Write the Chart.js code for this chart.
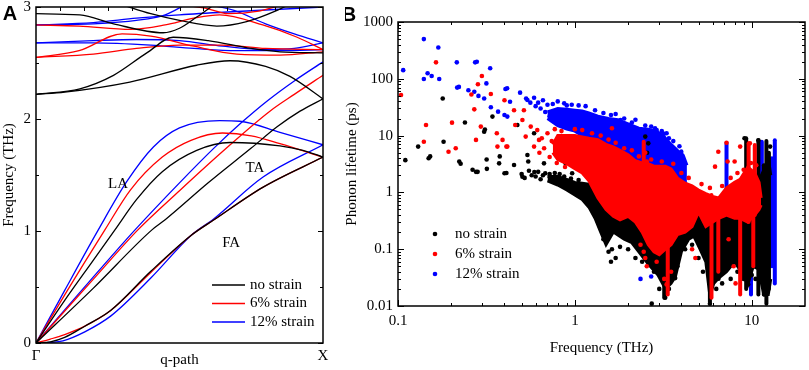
<!DOCTYPE html>
<html>
<head>
<meta charset="utf-8">
<script src="https://cdn.jsdelivr.net/npm/chart.js@4.4.1/dist/chart.umd.min.js"></script>
<style>
  html, body { margin: 0; padding: 0; background: #fff; }
  #wrap { position: relative; width: 809px; height: 370px; overflow: hidden; background: #fff; }
  #dispersion { position: absolute; left: 0; top: 0; }
  #lifetime { position: absolute; left: 345px; top: 0; }
</style>
</head>
<body>
<div id="wrap">
  <canvas id="dispersion" width="350" height="370"></canvas>
  <canvas id="lifetime" width="464" height="370"></canvas>
</div>
<script>
// ---------- panel A: dispersion branches, [q along Γ-X, frequency THz] ----------
const noStrainBranches = [
  [[0,0],[0.05,0.01],[0.1,0.05],[0.17,0.15],[0.26,0.29],[0.4,0.64],[0.54,0.96],[0.62,1.10],[0.79,1.39],[1,1.66]],
  [[0,0],[0.1,0.38],[0.2,0.74],[0.275,1.01],[0.35,1.28],[0.44,1.53],[0.56,1.72],[0.676,1.79],[0.85,1.76],[0.93,1.72],[1,1.66]],
  [[0,0],[0.2,0.49],[0.404,1.01],[0.45,1.10],[0.6,1.43],[0.75,1.74],[0.84,1.93],[0.92,2.07],[1,2.18]],
  [[0,2.22],[0.1,2.24],[0.327,2.33],[0.56,2.48],[0.676,2.52],[0.8,2.47],[0.885,2.38],[1,2.18]],
  [[0,2.22],[0.153,2.27],[0.27,2.39],[0.386,2.59],[0.478,2.73],[0.6,2.70],[0.75,2.63],[0.85,2.60],[1,2.59]],
  [[0,2.94],[0.153,2.93],[0.27,2.85],[0.443,2.77],[0.5,2.81],[0.56,2.91],[0.62,3.02]],
  [[0.3,3.02],[0.4,2.94],[0.5,2.88],[0.63,2.83],[0.734,2.87],[0.84,2.97],[0.88,3.02]]
];
const strain6Branches = [
  [[0,0],[0.05,0.035],[0.1,0.075],[0.17,0.15],[0.26,0.29],[0.4,0.63],[0.54,0.96],[0.62,1.10],[0.79,1.39],[1,1.66]],
  [[0,0],[0.1,0.43],[0.24,1.01],[0.33,1.37],[0.44,1.66],[0.54,1.81],[0.65,1.875],[0.75,1.85],[0.85,1.78],[1,1.66]],
  [[0,0],[0.2,0.57],[0.355,1.01],[0.5,1.36],[0.65,1.71],[0.815,2.07],[0.9,2.22],[1,2.39]],
  [[0,2.55],[0.15,2.61],[0.3,2.76],[0.4,2.74],[0.55,2.65],[0.7,2.58],[0.85,2.57],[1,2.60]],
  [[0,2.55],[0.2,2.58],[0.35,2.63],[0.5,2.66],[0.65,2.66],[0.8,2.63],[1,2.62]],
  [[0,2.84],[0.15,2.83],[0.33,2.80],[0.45,2.84],[0.55,2.90],[0.64,2.93],[0.79,2.84],[0.91,2.73],[1,2.62]],
  [[0.5,3.02],[0.59,2.99],[0.67,2.94],[0.77,2.96],[0.86,3.02]]
];
const strain12Branches = [
  [[0,0],[0.05,0.005],[0.094,0.02],[0.17,0.10],[0.26,0.24],[0.4,0.58],[0.54,0.96],[0.62,1.11],[0.79,1.48],[1,1.77]],
  [[0,0],[0.1,0.47],[0.217,1.01],[0.316,1.44],[0.409,1.75],[0.5,1.92],[0.64,1.985],[0.71,1.98],[0.85,1.88],[1,1.77]],
  [[0,0],[0.2,0.59],[0.345,1.01],[0.5,1.43],[0.62,1.74],[0.717,1.97],[0.81,2.17],[0.9,2.34],[1,2.51]],
  [[0,2.68],[0.2,2.70],[0.35,2.71],[0.5,2.70],[0.65,2.65],[0.8,2.62],[0.9,2.63],[1,2.68]],
  [[0,2.68],[0.2,2.68],[0.4,2.66],[0.55,2.63],[0.7,2.61],[0.85,2.61],[1,2.62]],
  [[0,2.84],[0.2,2.86],[0.35,2.90],[0.5,2.93],[0.7,2.96],[0.85,2.98],[1,3.0]],
  [[0,2.84],[0.2,2.85],[0.35,2.88],[0.45,2.93],[0.52,3.02]],
  [[0.6,3.02],[0.69,2.97],[0.8,2.85],[0.9,2.76],[1,2.68]]
];
const freqTicksA = [0, 1, 2, 3];
const qTicks = [0, 1];
const qTickLabels = ['Γ', 'X'];
const branchNotes = [['LA', 0.286, 1.42], ['TA', 0.763, 1.56], ['FA', 0.68, 0.89]];

// ---------- panel B: phonon lifetime (ps) vs frequency (THz) ----------
// dense parts of each cloud, as upper / lower edges
const blueBandFreq = [0.7,0.8,0.9,1.0,1.1,1.2,1.35,1.55,1.75,2.0,2.3,2.6,2.9,3.2,3.5,3.8,4.1,4.3];
const blueBandHigh = [26,30,29,28,27,25,22,20,19,16,13.5,13,12,9.5,7,5.5,4.5,3];
const blueBandLow  = [20,15,13,12,10,9,6,4,3.5,3,2.5,2.2,2,1.8,1.5,1.3,1.3,1.5];

const redBandFreq = [0.75,0.8,0.9,1.0,1.1,1.2,1.35,1.5,1.65,1.8,2.0,2.2,2.4,2.6,2.8,3.0,3.25,3.5,3.8,4.2,4.6,5.0,5.5,6.0,6.5,7.2,8.0,8.6,9.5,10.4,11.0,11.3];
const redBandHigh = [7,10,10,10,9.5,9,8.5,7,6.3,5.5,4.6,3.6,3.3,3.2,2.9,2.9,2.9,2.6,1.8,1.45,1.3,1.1,0.95,0.85,0.8,1.2,1.5,1.7,2.8,2.2,1.5,0.8];
const redBandLow  = [5,3.8,3.2,2.6,2.2,1.6,0.8,0.5,0.38,0.33,0.38,0.3,0.2,0.12,0.09,0.08,0.1,0.12,0.18,0.2,0.25,0.45,0.25,0.3,0.35,0.4,0.35,0.35,0.3,0.4,0.5,0.6];

const blackBandFreq = [0.7,0.8,0.9,1.0,1.1,1.2,1.3,1.4,1.5,1.65,1.9,2.1,2.3,2.6,2.95,3.25,3.5,3.7,4.0,4.4,4.7,5.1,5.5,5.8,6.1,6.5,7.2,8.0,8.7,9.5,10.2,10.9,11.7,12.4,12.8];
const blackBandHigh = [1.9,1.9,1.7,1.5,1.45,1.4,1.3,1.3,1.2,1.1,1.0,0.95,0.9,0.75,0.65,0.6,0.7,0.8,1.0,1.1,1.0,0.9,0.7,0.5,0.55,0.6,0.6,0.65,0.7,1.1,1.1,1.5,2.5,4,2];
const blackBandLow  = [1.6,1.35,1.1,0.9,0.75,0.55,0.35,0.2,0.12,0.2,0.15,0.13,0.09,0.055,0.035,0.02,0.025,0.033,0.09,0.15,0.17,0.1,0.06,0.015,0.025,0.031,0.04,0.06,0.04,0.024,0.05,0.045,0.016,0.016,0.03];

// vertical streaks: [frequency, lowest lifetime, highest lifetime]
const blueStreaks = [[4.0,1.0,5.3],[3.17,1.5,11],[7.2,0.11,7.4],[11.4,0.11,7.8],[13.5,0.025,8.3],[13.0,0.05,4],[9.9,0.016,0.09]];
const redStreaks = [[5.92,0.014,0.9],[8.6,0.016,1.6],[9.6,0.3,7.3],[10.4,0.4,6.8],[3.35,0.016,0.15],[2.45,2.3,7.8],[6.47,0.04,0.5],[10.2,0.05,0.4]];
const blackStreaks = [[12.1,0.011,8],[12.5,0.02,5],[10.9,0.016,8.3],[9.3,0.02,9],[5.8,0.012,0.6],[3.2,0.014,0.3],[6.5,0.03,0.5],[11.7,0.016,3]];

// single points: [frequency, lifetime]
const blueScatter = [
  [0.107,142],[0.14,500],[0.169,355],[0.14,99],[0.147,125],[0.155,112],[0.171,99],[0.215,195],[0.273,195],[0.279,200],
  [0.332,153],[0.216,70],[0.221,72],[0.25,63],[0.27,59],[0.285,50],[0.307,45],[0.316,83],[0.335,31.5],[0.368,26.4],
  [0.405,66],[0.414,68],[0.40,23],[0.415,21.6],[0.43,39.5],[0.49,57],[0.53,45],[0.539,42.4],[0.56,38],[0.588,46.5],[0.6,33],
  [0.62,38],[0.64,30],[0.66,42],[0.68,26],[0.70,35],[0.72,22],[0.75,36],[0.77,18],[0.80,40],[0.82,25],[0.85,16],
  [0.87,37],[0.90,34],[0.92,14],[0.96,35],[1.05,34],[1.15,33],[1.3,28],[1.45,25],[1.6,23],[1.7,24],[1.9,20],
  [2.1,17],[2.2,19],[2.5,15],[2.7,14.5],[3.1,12],[3.4,9],[3.6,8],[3.9,6.5],
  [2.39,11.7],[2.9,12.5],[3.3,11],[2.84,13.5],[1.81,18.8],
  [2.3,0.12],[2.35,0.03],[2.6,0.06],[2.7,0.033],[2.85,0.1],[3.0,0.07],[2.4,0.2],[5.5,0.3],[6.0,0.2],[9.5,0.05]
];
const redScatter = [
  [0.104,52],[0.144,15.4],[0.14,7.8],[0.164,195],[0.193,5.2],[0.202,16.9],[0.212,6.0],[0.26,53],[0.27,29],[0.276,8.4],
  [0.283,80],[0.294,14.4],[0.298,112],[0.335,54],[0.362,11],[0.365,6.4],[0.39,8.4],[0.40,42],[0.41,6.4],[0.415,6.4],
  [0.453,28],[0.46,15.4],[0.505,18.8],[0.515,28],[0.527,9.6],[0.563,14.4],[0.588,6.4],[0.613,12.5],[0.627,8.4],
  [0.63,5],[0.65,9],[0.67,6],[0.70,11],[0.72,4.2],[0.74,8],[0.77,13],[0.79,3.3],[0.84,12],[0.88,2.8],
  [1.0,13],[1.1,12.5],[1.25,11],[1.4,10],[1.55,8.5],[1.7,7.5],[1.9,6],[2.1,5.5],[2.3,4.3],[2.7,3.8],[3.1,3.5],
  [3.6,3.2],[4.0,2.2],[4.4,1.8],[5.2,1.4],[5.8,1.2],[6.8,1.3],[7.6,1.8],[8.3,2.2],[9.0,2.5],[9.9,3.3],[10.6,3],
  [1.62,13.5],[2.5,5],[2.55,3.5],[6.47,5.2],[6.2,2.84],[7.2,7.5],[7.3,3.5],[8.0,3.5],[8.6,6.4],[9.76,7.3],
  [2.45,0.09],[2.5,0.07],[2.55,0.05],[2.9,0.06],[3.2,0.03],[3.3,0.024],[3.5,0.04],[2.35,0.12],[4.6,0.1],[4.8,0.07],
  [7.9,0.05],[8.1,0.025],[7.4,0.15]
];
const blackScatter = [
  [0.11,3.7],[0.13,6.4],[0.149,4.0],[0.152,4.3],[0.179,45],[0.181,7.8],[0.222,3.5],[0.226,3.2],[0.239,17],[0.264,2.5],
  [0.276,2.3],[0.282,2.3],[0.307,11.7],[0.31,12.8],[0.317,3.8],[0.318,2.6],[0.342,21.6],[0.373,3.25],[0.376,4.3],[0.40,2.17],
  [0.41,2.2],[0.453,3.04],[0.473,15.4],[0.505,1.89],[0.539,4.55],[0.545,3.5],[0.588,11],[0.59,2.29],[0.669,3.25],[0.68,2.17],
  [0.50,2.1],[0.52,1.8],[0.55,2.4],[0.57,2.0],[0.60,1.9],[0.62,2.3],[0.64,1.7],[0.66,2.0],[0.72,2.1],[0.74,1.6],
  [0.77,2.2],[0.82,2.1],[0.87,1.9],[0.95,1.75],[1.05,1.65],
  [0.886,3.25],[0.965,2.17],[2.5,9.6],[2.6,7.3],[2.56,5],[1.55,0.09],[1.6,0.06],[1.7,0.07],[1.62,0.1],[2.72,0.011],
  [1.45,0.15],[1.8,0.11],[2.0,0.1],[2.2,0.07],[2.4,0.06],[2.8,0.04],[3.0,0.02],[3.4,0.02],[3.8,0.05],[4.2,0.1],
  [4.6,0.12],[5.0,0.07],[5.3,0.04],[6.3,0.02],[6.8,0.025],[7.6,0.03],[8.3,0.04],[9.0,0.03],[10.0,0.035],[10.5,0.03],
  [3.24,0.014],[3.69,0.031],[5.8,0.011],[9.55,0.024],[11.8,0.016],[9.1,9],[12.7,6.4],[10.9,8.3]
];
const lifetimeTicks = [0.01, 0.1, 1, 10, 100, 1000];
const freqTicksB = [0.1, 1, 10];

const seriesNames = ['no strain', '6% strain', '12% strain'];
const seriesColors = ['#000000', '#ff0000', '#0000ff'];

const serif = {family: 'Liberation Serif', size: 15};
const serifTitle = {family: 'Liberation Serif', size: 15, lineHeight: 1};

// frame, inward ticks, notes and legends
const framePlugin = {
  id: 'frame',
  afterDatasetsDraw(chart, args, o) {
    const {ctx, chartArea: a} = chart;
    const xs = chart.scales.x, ys = chart.scales.y;
    ctx.save();
    ctx.strokeStyle = '#000';
    ctx.lineWidth = 1;
    ctx.beginPath();
    for (const [v, len] of o.yTicks) {
      const y = Math.round(ys.getPixelForValue(v)) + 0.5;
      ctx.moveTo(a.left, y); ctx.lineTo(a.left + len, y);
      ctx.moveTo(a.right, y); ctx.lineTo(a.right - len, y);
    }
    for (const [v, len] of o.xTicks) {
      const x = Math.round(xs.getPixelForValue(v)) + 0.5;
      ctx.moveTo(x, a.top); ctx.lineTo(x, a.top + len);
      if (o.bottomTicks) { ctx.moveTo(x, a.bottom); ctx.lineTo(x, a.bottom - len); }
    }
    ctx.stroke();
    ctx.lineWidth = 1.5;
    ctx.strokeRect(a.left, a.top, a.right - a.left, a.bottom - a.top);

    ctx.fillStyle = '#000';
    ctx.textBaseline = 'middle';
    ctx.font = '15px "Liberation Serif"';
    ctx.textAlign = 'center';
    for (const [txt, q, f] of (o.notes || [])) {
      ctx.fillText(txt, xs.getPixelForValue(q), ys.getPixelForValue(f));
    }
    // legend
    ctx.textAlign = 'left';
    seriesNames.forEach((name, i) => {
      const y = a.bottom + o.legend.y0 + i * o.legend.dy;
      if (o.legend.kind === 'line') {
        ctx.strokeStyle = seriesColors[i];
        ctx.lineWidth = 1.3;
        ctx.beginPath();
        ctx.moveTo(a.right + o.legend.x0, y); ctx.lineTo(a.right + o.legend.x0 + 33, y);
        ctx.stroke();
        ctx.fillStyle = '#000';
        ctx.fillText(name, a.right + o.legend.x0 + 38, y);
      } else {
        ctx.fillStyle = seriesColors[i];
        ctx.beginPath();
        ctx.arc(a.left + o.legend.x0, y, 2.3, 0, Math.PI * 2);
        ctx.fill();
        ctx.fillStyle = '#000';
        ctx.fillText(name, a.left + o.legend.x0 + 20, y);
      }
    });
    ctx.font = 'bold 20px "Liberation Sans"';
    ctx.textAlign = 'center';
    ctx.fillText(o.panel[0], o.panel[1], o.panel[2]);
    ctx.restore();
  }
};

// ---------- panel A ----------
function branchSets(branches, color) {
  return branches.map(b => ({
    data: b.map(p => ({x: p[0], y: p[1]})),
    showLine: true,
    borderColor: color,
    borderWidth: 1.3,
    pointRadius: 0,
    fill: false,
    cubicInterpolationMode: 'monotone'
  }));
}

const ticksA = [];
for (let v = 0; v <= 3; v += 0.5) ticksA.push([v, freqTicksA.includes(v) ? 5 : 3]);
const topTicksA = [];
for (let k = 1; k < 12; k++) topTicksA.push([k / 12, 4]);

new Chart(document.getElementById('dispersion'), {
  type: 'scatter',
  data: {
    datasets: [
      ...branchSets(noStrainBranches, seriesColors[0]),
      ...branchSets(strain6Branches, seriesColors[1]),
      ...branchSets(strain12Branches, seriesColors[2])
    ]
  },
  options: {
    responsive: false,
    animation: false,
    devicePixelRatio: 1,
    layout: {padding: {top: 7, right: 27, left: 0, bottom: 0}},
    plugins: {
      legend: {display: false},
      tooltip: {enabled: false},
      frame: {
        yTicks: ticksA, xTicks: topTicksA, bottomTicks: false,
        notes: branchNotes,
        legend: {kind: 'line', x0: -111, y0: -58, dy: 18.5},
        panel: ['A', 10, 14]
      }
    },
    scales: {
      x: {
        type: 'linear', min: 0, max: 1,
        grid: {display: false, drawTicks: false},
        border: {display: false},
        afterBuildTicks: s => { s.ticks = qTicks.map(v => ({value: v})); },
        ticks: {font: serif, color: '#000', padding: 4, maxRotation: 0, autoSkip: false,
                callback: (v, i) => qTickLabels[i]},
        title: {display: true, text: 'q-path', font: serifTitle, color: '#000', padding: {top: 0, bottom: 2}},
        afterFit: s => { s.height = 27; s.paddingLeft = 0; s.paddingRight = 0; }
      },
      y: {
        type: 'linear', min: 0, max: 3,
        grid: {display: false, drawTicks: false},
        border: {display: false},
        afterBuildTicks: s => { s.ticks = freqTicksA.map(v => ({value: v})); },
        ticks: {font: serif, color: '#000', padding: 5, callback: v => String(v)},
        title: {display: true, text: 'Frequency (THz)', font: serifTitle, color: '#000', padding: {top: 2, bottom: 0}},
        afterFit: s => { s.width = 36; s.paddingTop = 0; s.paddingBottom = 0; }
      }
    }
  },
  plugins: [framePlugin]
});

// ---------- panel B ----------
function cloudLayers(bandF, bandHi, bandLo, streaks, dots, color) {
  const band = {showLine: true, pointRadius: 0, borderColor: color, borderWidth: 3,
                backgroundColor: color, tension: 0};
  const layers = [
    {...band, data: bandF.map((f, i) => ({x: f, y: bandHi[i]})), fill: false},
    {...band, data: bandF.map((f, i) => ({x: f, y: bandLo[i]})), fill: '-1'}
  ];
  for (const [f, lo, hi] of streaks) {
    layers.push({showLine: true, pointRadius: 0, borderColor: color, borderWidth: 4,
                 borderCapStyle: 'round', fill: false,
                 data: [{x: f, y: lo}, {x: f, y: hi}]});
  }
  layers.push({showLine: false, pointRadius: 2.3, pointBorderWidth: 0,
               pointBackgroundColor: color, backgroundColor: color,
               data: dots.map(p => ({x: p[0], y: p[1]}))});
  return layers;
}

const layersB = [
  ...cloudLayers(blueBandFreq, blueBandHigh, blueBandLow, blueStreaks, blueScatter, seriesColors[2]),
  ...cloudLayers(blackBandFreq, blackBandHigh, blackBandLow, blackStreaks, blackScatter, seriesColors[0]),
  ...cloudLayers(redBandFreq, redBandHigh, redBandLow, redStreaks, redScatter, seriesColors[1])
];
layersB.forEach((d, i) => { d.order = layersB.length - i; });

function logTickMarks(majors, lo, hi) {
  const out = [];
  for (const d of majors) {
    out.push([d, 6]);
    for (let k = 2; k <= 9; k++) if (d * k > lo && d * k < hi) out.push([d * k, 3]);
  }
  return out;
}

new Chart(document.getElementById('lifetime'), {
  type: 'scatter',
  data: {datasets: layersB},
  options: {
    responsive: false,
    animation: false,
    devicePixelRatio: 1,
    layout: {padding: {top: 22, right: 3, left: 0, bottom: 0}},
    plugins: {
      legend: {display: false},
      tooltip: {enabled: false},
      frame: {
        yTicks: logTickMarks(lifetimeTicks, 0.01, 1000),
        xTicks: logTickMarks([0.1, 1, 10], 0.1, 20),
        bottomTicks: true,
        legend: {kind: 'dot', x0: 37, y0: -72, dy: 20},
        panel: ['B', 4, 15]
      }
    },
    scales: {
      x: {
        type: 'logarithmic', min: 0.1, max: 20,
        grid: {display: false, drawTicks: false},
        border: {display: false},
        afterBuildTicks: s => { s.ticks = freqTicksB.map(v => ({value: v})); },
        ticks: {font: serif, color: '#000', padding: 6, maxRotation: 0, autoSkip: false,
                callback: v => String(v)},
        title: {display: true, text: 'Frequency (THz)', font: serifTitle, color: '#000', padding: {top: 0, bottom: 14}},
        afterFit: s => { s.height = 64; s.paddingLeft = 0; s.paddingRight = 0; }
      },
      y: {
        type: 'logarithmic', min: 0.01, max: 1000,
        grid: {display: false, drawTicks: false},
        border: {display: false},
        afterBuildTicks: s => { s.ticks = lifetimeTicks.map(v => ({value: v})); },
        ticks: {font: serif, color: '#000', padding: 5, autoSkip: false, callback: v => String(v)},
        title: {display: true, text: 'Phonon lifetime (ps)', font: serifTitle, color: '#000', padding: {top: 0, bottom: 0}},
        afterFit: s => { s.width = 53; s.paddingTop = 0; s.paddingBottom = 0; }
      }
    }
  },
  plugins: [framePlugin]
});
</script>
</body>
</html>
